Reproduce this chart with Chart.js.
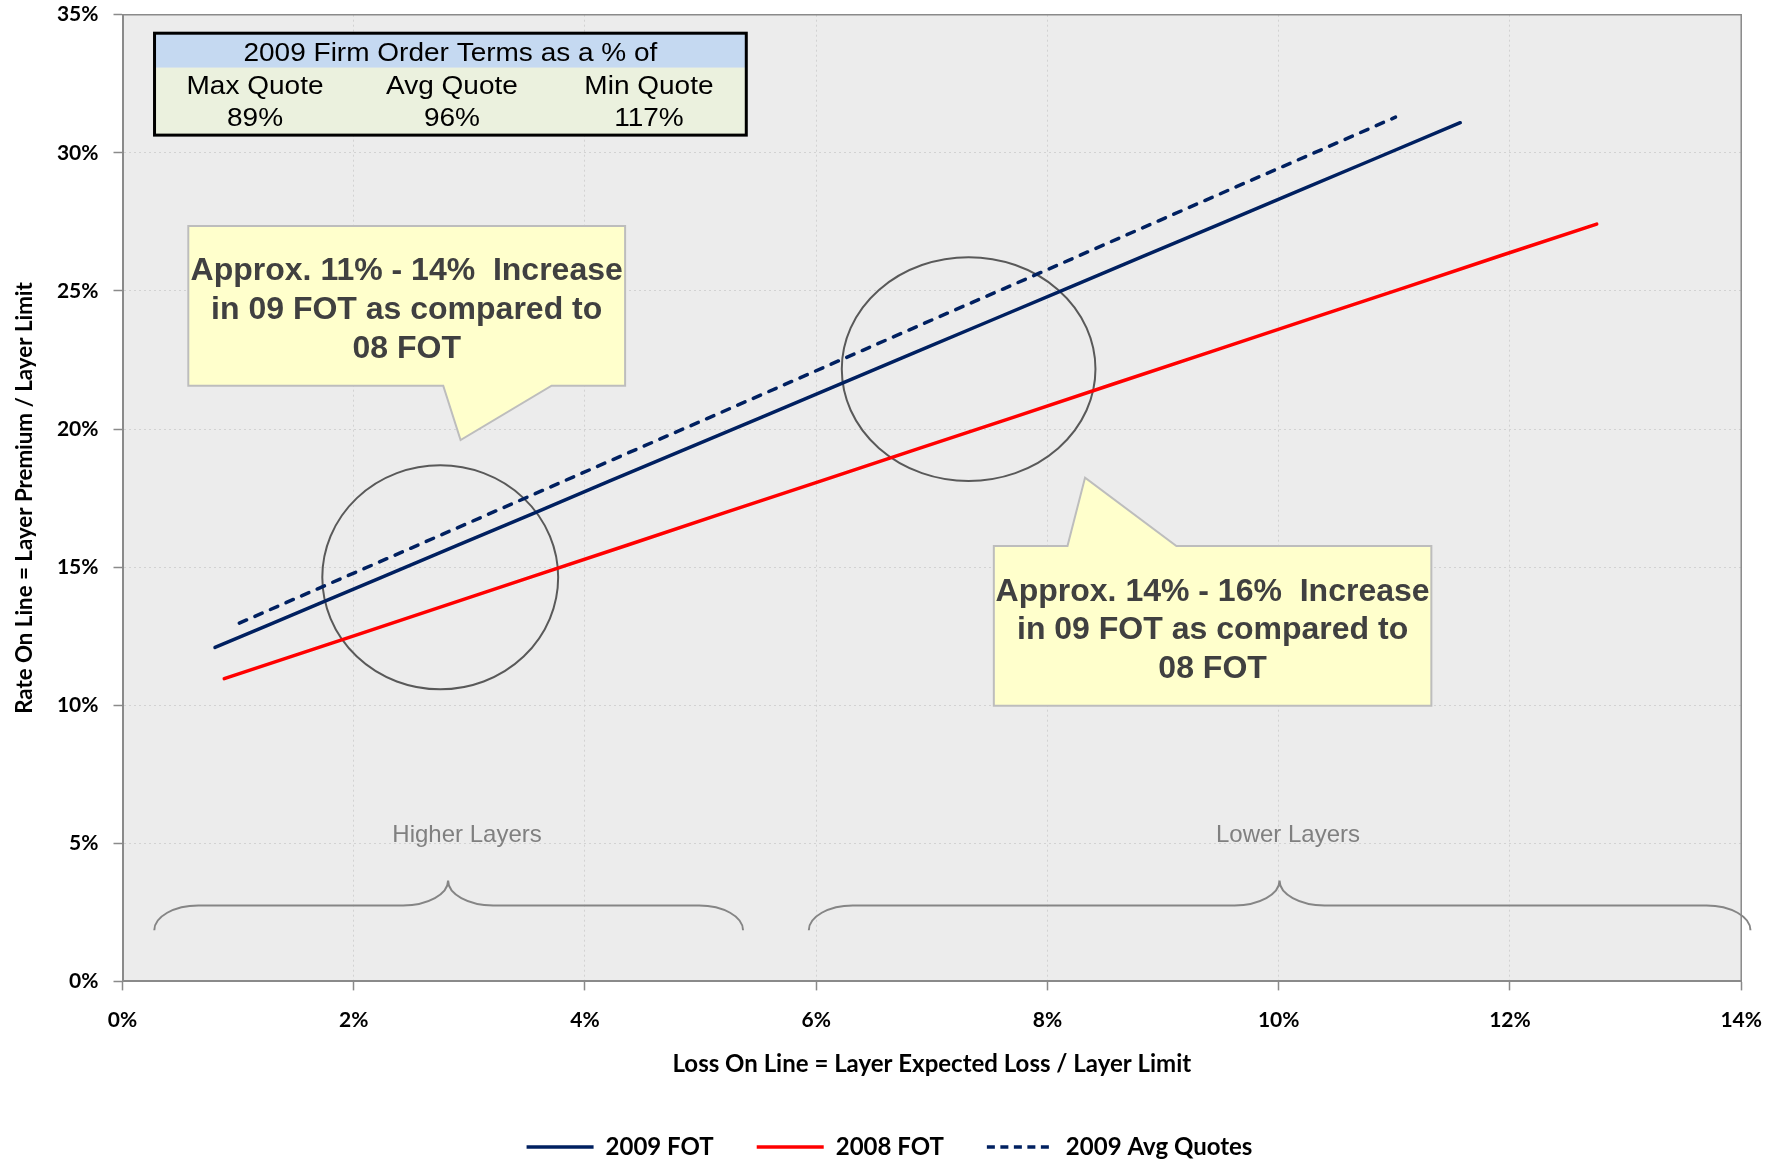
<!DOCTYPE html>
<html>
<head>
<meta charset="utf-8">
<script src="https://cdn.jsdelivr.net/npm/chart.js@4.4.1/dist/chart.umd.min.js"></script>
<style>
  html, body { margin: 0; padding: 0; background: #ffffff; }
  #wrap { width: 1779px; height: 1162px; }
</style>
</head>
<body>
<div id="wrap"><canvas id="c" width="1779" height="1162"></canvas></div>
<script>
// ---- Data: loss on line (x, %) vs rate on line (y, %) ----
const lol2009Fot = [0.80, 1.25, 1.70, 2.23, 2.89, 3.55, 4.21, 4.87, 5.53, 6.18, 6.84, 7.50, 8.16, 8.82, 9.48, 10.14, 10.80, 11.57];
const rol2009Fot = [12.09, 12.88, 13.68, 14.61, 15.78, 16.94, 18.11, 19.27, 20.43, 21.58, 22.75, 23.91, 25.07, 26.24, 27.40, 28.57, 29.73, 31.09];

const lol2008Fot = [0.88, 1.45, 2.02, 2.69, 3.53, 4.37, 5.21, 6.05, 6.89, 7.73, 8.57, 9.41, 10.25, 11.09, 11.93, 12.75];
const rol2008Fot = [10.96, 11.75, 12.54, 13.47, 14.64, 15.80, 16.97, 18.13, 19.30, 20.46, 21.63, 22.79, 23.96, 25.12, 26.29, 27.42];

const lol2009Avg = [1.01, 1.68, 2.35, 3.02, 3.69, 4.36, 5.03, 5.70, 6.37, 7.04, 7.71, 8.38, 9.05, 9.72, 10.39, 11.01];
const rol2009Avg = [12.97, 14.20, 15.42, 16.65, 17.88, 19.11, 20.33, 21.56, 22.79, 24.02, 25.24, 26.47, 27.70, 28.93, 30.15, 31.29];

const seriesNames = ['2009 FOT', '2008 FOT', '2009 Avg Quotes'];
const xTickValues = [0, 2, 4, 6, 8, 10, 12, 14];
const yTickValues = [0, 5, 10, 15, 20, 25, 30, 35];
const xTitle = 'Loss On Line = Layer Expected Loss / Layer Limit';
const yTitle = 'Rate On Line = Layer Premium / Layer Limit';

// Firm order terms summary table
const quoteHeader = '2009 Firm Order Terms as a % of';
const quoteNames = ['Max Quote', 'Avg Quote', 'Min Quote'];
const quoteShares = ['89%', '96%', '117%'];

// Callout texts and layer labels
const calloutLow = ['Approx. 11% - 14%  Increase', 'in 09 FOT as compared to', '08 FOT'];
const calloutHigh = ['Approx. 14% - 16%  Increase', 'in 09 FOT as compared to', '08 FOT'];
const layerNames = ['Higher Layers', 'Lower Layers'];

// ---- Helpers ----
const toPoints = (xs, ys) => xs.map((x, i) => ({ x: x, y: ys[i] }));
const pct = v => v + '%';

const seriesStyles = [
  { color: '#002060', dash: [], cap: 'round' },
  { color: '#FF0000', dash: [], cap: 'round' },
  { color: '#002060', dash: [8, 9], cap: 'round' }
];
const legendDash = [8, 5.5];
const seriesData = [
  toPoints(lol2009Fot, rol2009Fot),
  toPoints(lol2008Fot, rol2008Fot),
  toPoints(lol2009Avg, rol2009Avg)
];

const datasets = seriesNames.map((name, i) => ({
  label: name,
  data: seriesData[i],
  showLine: true,
  borderColor: seriesStyles[i].color,
  backgroundColor: seriesStyles[i].color,
  borderWidth: 3.5,
  borderDash: seriesStyles[i].dash,
  borderCapStyle: seriesStyles[i].cap,
  borderJoinStyle: 'round',
  pointRadius: 0,
  pointHoverRadius: 0,
  tension: 0
}));

// Overlay shapes, placed in axis units (x: loss on line %, y: rate on line %)
const overlayLayout = {
  table: { x0: 0.277, x1: 5.395, yTop: 34.33, yHead: 33.08, yBottom: 30.64,
           yHeadText: 33.57, yNameText: 32.38, yShareText: 31.23, cols: [1.146, 2.849, 4.553] },
  callouts: [
    { x0: 0.569, x1: 4.347, yTop: 27.35, yBottom: 21.57, side: 'bottom',
      baseA: 2.774, baseB: 3.711, tipX: 2.924, tipY: 19.60, lines: calloutLow },
    { x0: 7.536, x1: 11.32, yTop: 15.76, yBottom: 9.98, side: 'top',
      baseA: 8.173, baseB: 9.115, tipX: 8.325, tipY: 18.24, lines: calloutHigh }
  ],
  rings: [
    { x: 2.748, y: 14.63, rx: 1.020, ry: 4.055 },
    { x: 7.318, y: 22.17, rx: 1.097, ry: 4.05 }
  ],
  braces: [
    { x0: 0.275, x1: 5.367, xm: 2.816, label: layerNames[0], labelX: 2.98 },
    { x0: 5.936, x1: 14.08, xm: 10.007, label: layerNames[1], labelX: 10.08 }
  ],
  braceY: { end: 1.85, flat: 2.75, peak: 3.65, label: 5.30 }
};

const plotBackground = {
  id: 'plotBackground',
  beforeDraw(chart) {
    const { ctx, chartArea: a } = chart;
    ctx.save();
    ctx.fillStyle = '#ECECEC';
    ctx.fillRect(a.left, a.top, a.right - a.left, a.bottom - a.top);
    ctx.restore();
  }
};

function stretchedText(ctx, text, cx, cy, sx) {
  ctx.save();
  ctx.translate(cx, cy);
  ctx.scale(sx, 1);
  ctx.fillText(text, 0, 0);
  ctx.restore();
}

const overlays = {
  id: 'overlays',
  beforeDatasetsDraw(chart) {
    const { ctx, chartArea: a } = chart;
    const X = v => chart.scales.x.getPixelForValue(v);
    const Y = v => chart.scales.y.getPixelForValue(v);
    ctx.save();

    // plot frame
    ctx.strokeStyle = '#8A8A8A';
    ctx.lineWidth = 1.5;
    ctx.beginPath();
    ctx.moveTo(a.left, a.top);
    ctx.lineTo(a.right, a.top);
    ctx.lineTo(a.right, a.bottom);
    ctx.stroke();

    // rings around compared regions
    ctx.strokeStyle = '#595959';
    ctx.lineWidth = 2;
    overlayLayout.rings.forEach(r => {
      const cx = X(r.x), cy = Y(r.y);
      const rx = X(r.x + r.rx) - cx, ry = cy - Y(r.y + r.ry);
      ctx.beginPath();
      ctx.ellipse(cx, cy, rx, ry, 0, 0, Math.PI * 2);
      ctx.stroke();
    });

    // braces marking layer groups
    const by = overlayLayout.braceY;
    const yE = Y(by.end), yF = Y(by.flat), yP = Y(by.peak);
    const rc = 44, rm = 45;
    ctx.strokeStyle = '#858585';
    ctx.lineWidth = 2;
    overlayLayout.braces.forEach(b => {
      const x0 = X(b.x0), x1 = X(b.x1), xm = X(b.xm);
      ctx.beginPath();
      ctx.moveTo(x0, yE);
      ctx.bezierCurveTo(x0, yE - (yE - yF) * 0.55, x0 + rc * 0.45, yF, x0 + rc, yF);
      ctx.lineTo(xm - rm, yF);
      ctx.bezierCurveTo(xm - rm * 0.45, yF, xm, yF - (yF - yP) * 0.45, xm, yP);
      ctx.bezierCurveTo(xm, yF - (yF - yP) * 0.45, xm + rm * 0.45, yF, xm + rm, yF);
      ctx.lineTo(x1 - rc, yF);
      ctx.bezierCurveTo(x1 - rc * 0.45, yF, x1, yE - (yE - yF) * 0.55, x1, yE);
      ctx.stroke();
      ctx.fillStyle = '#808080';
      ctx.font = '24px "Liberation Sans", Arial, sans-serif';
      ctx.textAlign = 'center';
      ctx.textBaseline = 'middle';
      ctx.fillText(b.label, X(b.labelX), Y(by.label));
    });

    // callouts
    overlayLayout.callouts.forEach(c => {
      const x0 = X(c.x0), x1 = X(c.x1), yT = Y(c.yTop), yB = Y(c.yBottom);
      const bA = X(c.baseA), bB = X(c.baseB), tX = X(c.tipX), tY = Y(c.tipY);
      ctx.beginPath();
      if (c.side === 'bottom') {
        ctx.moveTo(x0, yT); ctx.lineTo(x1, yT); ctx.lineTo(x1, yB);
        ctx.lineTo(bB, yB); ctx.lineTo(tX, tY); ctx.lineTo(bA, yB);
        ctx.lineTo(x0, yB); ctx.closePath();
      } else {
        ctx.moveTo(x0, yT); ctx.lineTo(bA, yT); ctx.lineTo(tX, tY); ctx.lineTo(bB, yT);
        ctx.lineTo(x1, yT); ctx.lineTo(x1, yB); ctx.lineTo(x0, yB); ctx.closePath();
      }
      ctx.fillStyle = '#FFFFCC';
      ctx.fill();
      ctx.strokeStyle = '#BDBDBD';
      ctx.lineWidth = 2;
      ctx.stroke();
      ctx.fillStyle = '#404040';
      ctx.font = 'bold 32px "Liberation Sans", Arial, sans-serif';
      ctx.textAlign = 'center';
      ctx.textBaseline = 'middle';
      const cx = (x0 + x1) / 2, cy = (yT + yB) / 2, lh = 38.7;
      c.lines.forEach((t, i) => ctx.fillText(t, cx, cy + (i - 1) * lh + 4.5));
    });

    // summary table
    const t = overlayLayout.table;
    const tx0 = X(t.x0), tx1 = X(t.x1), tyT = Y(t.yTop), tyH = Y(t.yHead), tyB = Y(t.yBottom);
    ctx.fillStyle = '#C5D9F1';
    ctx.fillRect(tx0, tyT, tx1 - tx0, tyH - tyT);
    ctx.fillStyle = '#EBF1DE';
    ctx.fillRect(tx0, tyH, tx1 - tx0, tyB - tyH);
    ctx.strokeStyle = '#000000';
    ctx.lineWidth = 3;
    ctx.strokeRect(tx0, tyT, tx1 - tx0, tyB - tyT);
    ctx.fillStyle = '#000000';
    ctx.font = '25px "Liberation Sans", Arial, sans-serif';
    ctx.textAlign = 'center';
    ctx.textBaseline = 'middle';
    const sx = 1.12;
    stretchedText(ctx, quoteHeader, (tx0 + tx1) / 2, Y(t.yHeadText), sx);
    t.cols.forEach((cxv, i) => {
      stretchedText(ctx, quoteNames[i], X(cxv), Y(t.yNameText), sx);
      stretchedText(ctx, quoteShares[i], X(cxv), Y(t.yShareText), sx);
    });

    ctx.restore();
  }
};

const tickFont = { family: 'Lato, "Open Sans", sans-serif', size: 21, weight: 'bold' };

new Chart(document.getElementById('c'), {
  type: 'scatter',
  data: { datasets: datasets },
  plugins: [plotBackground, overlays],
  options: {
    responsive: false,
    animation: false,
    events: [],
    layout: { padding: { left: 0, right: 0, top: 14.7, bottom: 0 } },
    scales: {
      x: {
        type: 'linear',
        min: xTickValues[0],
        max: xTickValues[xTickValues.length - 1],
        afterBuildTicks: s => { s.ticks = xTickValues.map(v => ({ value: v })); },
        afterFit: s => { s.height = 110.6; },
        ticks: { callback: pct, font: tickFont, color: '#000000', padding: 17, maxRotation: 0 },
        grid: { color: '#D2D2D2', lineWidth: 1, tickColor: '#8A8A8A', tickLength: 9, tickWidth: 1.5 },
        border: { color: '#8A8A8A', width: 2, dash: [2, 3] },
        title: { display: true, text: xTitle, color: '#000000',
                 font: { family: 'Lato, "Open Sans", sans-serif', size: 24, weight: 'bold' },
                 padding: { top: 0, bottom: 13.4 } }
      },
      y: {
        type: 'linear',
        min: yTickValues[0],
        max: yTickValues[yTickValues.length - 1],
        afterBuildTicks: s => { s.ticks = yTickValues.map(v => ({ value: v })); },
        afterFit: s => { s.width = 122.5; s.paddingTop = 0; s.paddingBottom = 0; },
        ticks: { callback: pct, font: tickFont, color: '#000000', padding: 15 },
        grid: { color: '#D2D2D2', lineWidth: 1, tickColor: '#8A8A8A', tickLength: 9, tickWidth: 1.5 },
        border: { color: '#8A8A8A', width: 2, dash: [2, 3] },
        title: { display: true, text: yTitle, color: '#000000',
                 font: { family: 'Lato, "Open Sans", sans-serif', size: 22.3, weight: 'bold' },
                 padding: { top: 11, bottom: 0 } }
      },
      // empty right-hand gutter so the legend stays centred on the page
      gutter: {
        type: 'linear',
        position: 'right',
        min: yTickValues[0],
        max: yTickValues[yTickValues.length - 1],
        afterFit: s => { s.width = 37.4; s.paddingTop = 0; s.paddingBottom = 0; },
        ticks: { display: false },
        grid: { display: false, drawTicks: false },
        border: { display: false }
      }
    },
    plugins: {
      legend: {
        position: 'bottom',
        maxHeight: 70,
        labels: {
          usePointStyle: true,
          pointStyle: 'line',
          pointStyleWidth: 67,
          padding: 43,
          color: '#000000',
          font: { family: 'Lato, "Open Sans", sans-serif', size: 24, weight: 'bold' },
          generateLabels(chart) {
            const items = Chart.defaults.plugins.legend.labels.generateLabels(chart);
            items.forEach(it => {
              const ds = chart.data.datasets[it.datasetIndex];
              it.strokeStyle = ds.borderColor;
              it.lineWidth = ds.borderWidth;
              it.lineDash = ds.borderDash.length ? legendDash : [];
              it.lineCap = 'butt';
            });
            return items;
          }
        }
      },
      tooltip: { enabled: false }
    }
  }
});
</script>
</body>
</html>
